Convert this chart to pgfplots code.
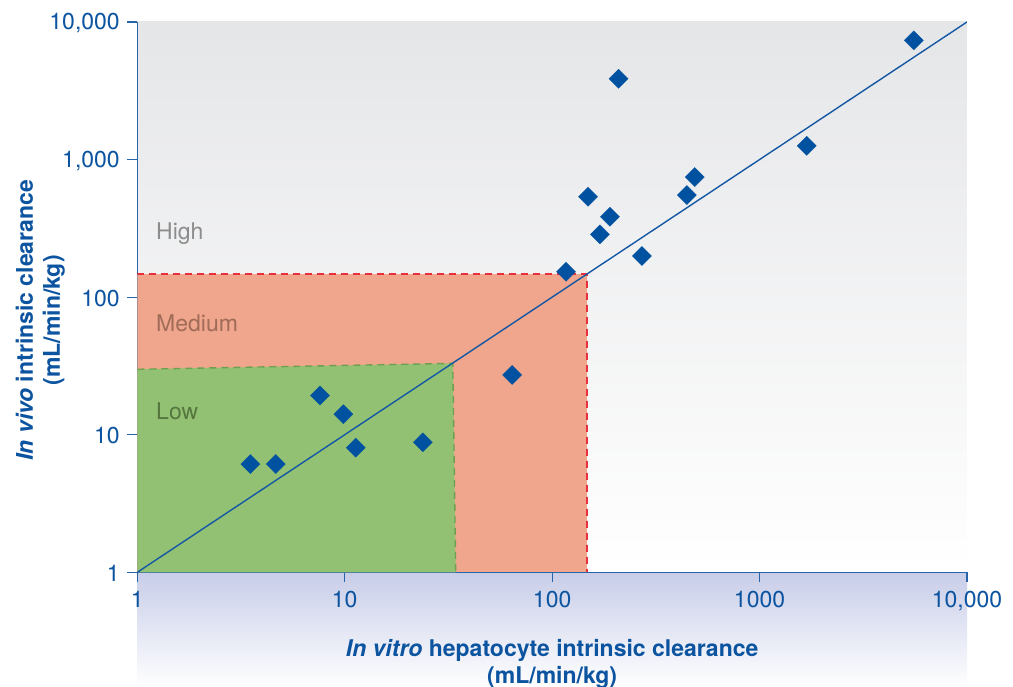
\documentclass[border=0pt]{standalone}
\usepackage{fontspec}
\setmainfont{TeX Gyre Heros}
\setsansfont{TeX Gyre Heros}
\usepackage{pgfplots}
\pgfplotsset{compat=1.18}
\definecolor{axisblue}{RGB}{40,100,170}
\definecolor{labelblue}{RGB}{12,84,160}
\definecolor{markblue}{RGB}{0,82,160}
\definecolor{linblue}{RGB}{20,88,165}
\definecolor{salmon}{RGB}{239,166,140}
\definecolor{lowgreen}{RGB}{147,193,115}
\definecolor{dashred}{RGB}{232,48,58}
\definecolor{dashgreen}{RGB}{110,160,80}
\definecolor{bgtop}{RGB}{229,230,232}
\definecolor{lav}{RGB}{200,205,232}
\definecolor{hightxt}{RGB}{140,140,140}
\definecolor{medtxt}{RGB}{160,108,88}
\definecolor{lowtxt}{RGB}{85,118,62}

\pgfplotstableread{
x y
3.51 6.12
4.65 6.12
7.60 19.3
9.85 14.1
11.3 8.05
23.8 8.81
64.1 27.2
116.7 153
149 537
209 3866
190 384
170 286
271 199
446 552
487 746
1689 1259
5540 7350
}\datatable

\begin{document}
\begin{tikzpicture}
\useasboundingbox (-137.3pt,-114.7pt) rectangle (875.7pt,572.3pt);
\shade[top color=lav, bottom color=white] (0pt,-114.7pt) rectangle (829.7pt,0pt);
\begin{axis}[
  at={(0pt,0pt)}, anchor=south west,
  scale only axis, width=829.7pt, height=550.3pt,
  xmode=log, ymode=log,
  xmin=1, xmax=10000, ymin=1, ymax=10000,
  axis x line*=bottom, axis y line*=left,
  axis line style={axisblue, line width=1.2pt, -},
  xtick={1,10,100,1000,10000},
  xticklabels={1,10,100,1000,{10,000}},
  ytick={1,10,100,1000,10000},
  yticklabels={1,10,100,{1,000},{10,000}},
  tick align=outside, major tick length=10pt,
  tick style={axisblue, line width=1.2pt},
  minor tick length=0pt, minor tick style={draw=none},
  ticklabel style={font=\fontsize{23}{27}\selectfont, text=labelblue},
  xticklabel style={yshift=-5pt},
  yticklabel style={xshift=-4pt, yshift=-1pt},
  axis background/.style={top color=bgtop, bottom color=white, draw=none},
  xlabel={\textit{In vitro} hepatocyte intrinsic clearance\\(mL/min/kg)},
  ylabel={\textit{In vivo} intrinsic clearance\\(mL/min/kg)},
  every axis x label/.style={at={(rel axis cs:0.5,-0.1212)}, anchor=north, inner sep=0pt,
     align=center, font=\bfseries\fontsize{23}{27}\selectfont, text=labelblue},
  every axis y label/.style={at={(rel axis cs:-0.1468,0.458)}, rotate=90, anchor=north, inner sep=0pt,
     align=center, font=\bfseries\fontsize{23}{27}\selectfont, text=labelblue},
]
% Medium region
\addplot[fill=salmon, draw=none] coordinates {(1,1) (1,147) (147,147) (147,1)} -- cycle;
% Low region
\addplot[fill=lowgreen, draw=none] coordinates {(1,1) (1,29.9) (33.2,33.0) (34.3,1)} -- cycle;
\addplot[dashred, line width=1.4pt, dash pattern=on 7pt off 5pt] coordinates {(1,147) (147,147) (147,1)};
\addplot[dashgreen, line width=1.4pt, dash pattern=on 7pt off 5pt] coordinates {(1,29.9) (33.2,33.0) (34.3,1)};
% identity line
\addplot[linblue, line width=1.4pt] coordinates {(1,1) (10000,10000)};
% data
\addplot[color=markblue, only marks, mark=square*, mark size=6.8pt,
  mark options={rotate=45, fill=markblue, draw=markblue, line width=0.2pt}] table[x=x,y=y] {\datatable};
\node[anchor=base west, inner sep=0pt, text=hightxt, font=\fontsize{23}{27}\selectfont] at (axis cs:1.231,264) {High};
\node[anchor=base west, inner sep=0pt, text=medtxt, font=\fontsize{23}{27}\selectfont] at (axis cs:1.231,56.0) {Medium};
\node[anchor=base west, inner sep=0pt, text=lowtxt, font=\fontsize{23}{27}\selectfont] at (axis cs:1.231,12.8) {Low};
\end{axis}
\end{tikzpicture}
\end{document}
